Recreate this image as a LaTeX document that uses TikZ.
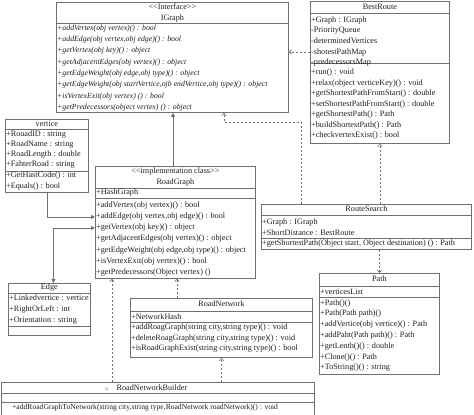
\documentclass[tikz,border=0pt]{standalone}
\usepackage{fontspec}
\setmainfont{Liberation Serif}
\usetikzlibrary{positioning, arrows.meta}
\definecolor{umlLine}{HTML}{707070}
\definecolor{umlText}{HTML}{1E1E1E}

\begin{document}
\begin{tikzpicture}[x=1pt, y=-1pt,
    box/.style={draw=umlLine, line width=0.8pt, rectangle, inner sep=0pt, anchor=north west},
    sep/.style={draw=umlLine, line width=0.7pt},
    title/.style={text=umlText, align=center, font=\fontsize{8.2}{10.7}\selectfont, inner sep=0pt},
    members/.style={text=umlText, align=left, font=\fontsize{8.2}{10.7}\selectfont, inner sep=0pt, anchor=west},
    ops/.style={members, font=\fontsize{7.8}{11.3}\selectfont\itshape},
    dep/.style={draw=umlLine, line width=0.6pt, dash pattern=on 2.5pt off 1.5pt, -{Straight Barb[length=2.5pt,width=4.5pt]}},
    assoc/.style={draw=umlLine, line width=0.8pt, -{Triangle[length=4pt,width=4pt]}},
    assocBoth/.style={assoc, {Triangle[length=4pt,width=4pt]}-{Triangle[length=4pt,width=4pt]}},
]
\useasboundingbox (0,0) rectangle (474,415);

% IGraph
\node[box, minimum width=232pt, minimum height=110pt] (ig) at (56,2) {};
\node[title] (igName) at (ig.north |- 0,13) {\textless\kern0pt\textless Interface\textgreater\kern0pt\textgreater\\IGraph};
\draw[sep] (ig.west |- 0,23) -- (ig.east |- 0,23);
\node[ops] (igOps) at (57,68) {
    +addVertex(obj vertex)() : bool\\
    +addEdge(obj vertex,obj edge)() : bool\\
    +getVertex(obj key)() : object\\
    +getAdjacentEdges(obj vertex)() : object\\
    +getEdgeWeight(obj edge,obj type)() : object\\
    +getEdgeWeight(obj startVertice,ojb endVertice,obj type)() : object\\
    +isVertexExit(obj vertex) () : bool\\
    +getPredecessors(object vertex) () : object
};

% BestRoute
\node[box, minimum width=139pt, minimum height=142pt] (br) at (310,1) {};
\node[title] (brName) at (br.north |- 0,7) {BestRoute};
\draw[sep] (br.west |- 0,13) -- (br.east |- 0,13);
\draw[sep] (br.west |- 0,63) -- (br.east |- 0,63);
\node[members] (brAttr) at (311,41.5) {
    +Graph : IGraph\\
    -PriorityQueue\\
    -determinedVertices\\
    -shotestPathMap\\
    -predecessorsMap
};
\node[members, font=\fontsize{8.2}{10.5}\selectfont] (brOps) at (311,104.5) {
    +run() : void\\
    +relax(object verticeKey)() : void\\
    +getShortestPathFromStart() : double\\
    +setShortestPathFromStart() : double\\
    +getShortestPath() : Path\\
    +buildShortestPath() : Path\\
    +checkvertexExist() : bool
};

% vertice
\node[box, minimum width=83pt, minimum height=73pt] (vt) at (5,119) {};
\node[title] (vtName) at (vt.north |- 0,124) {vertice};
\draw[sep] (vt.west |- 0,129) -- (vt.east |- 0,129);
\draw[sep] (vt.west |- 0,171) -- (vt.east |- 0,171);
\node[members, font=\fontsize{8.2}{10.3}\selectfont] (vtAttr) at (6,149.5) {
    +RouadID : string\\
    +RoadName : string\\
    +RoadLength : double\\
    +FahterRoad : string
};
\node[members, font=\fontsize{8.2}{10.3}\selectfont] (vtOps) at (6,181) {
    +GetHastCode() : int\\
    +Equals() : bool
};

% RoadGraph
\node[box, minimum width=160pt, minimum height=112pt] (rg) at (95,166) {};
\node[title] (rgName) at (rg.north |- 0,177) {\textless\kern0pt\textless implementation class\textgreater\kern0pt\textgreater\\RoadGraph};
\draw[sep] (rg.west |- 0,188) -- (rg.east |- 0,188);
\draw[sep] (rg.west |- 0,198) -- (rg.east |- 0,198);
\node[members] (rgAttr) at (96,192.5) {+HashGraph};
\node[members, font=\fontsize{8.2}{11.3}\selectfont] (rgOps) at (96,239) {
    +addVertex(obj vertex)() : bool\\
    +addEdge(obj vertex,obj edge)() : bool\\
    +getVertex(obj key)() : object\\
    +getAdjacentEdges(obj vertex)() : object\\
    +getEdgeWeight(obj edge,obj type)() : object\\
    +isVertexExit(obj vertex)() : bool\\
    +getPredecessors(Object vertex) ()
};

% RouteSearch
\node[box, minimum width=210pt, minimum height=45pt] (rs) at (261,204) {};
\node[title] (rsName) at (rs.north |- 0,209) {RouteSearch};
\draw[sep] (rs.west |- 0,215) -- (rs.east |- 0,215);
\draw[sep] (rs.west |- 0,238) -- (rs.east |- 0,238);
\node[members] (rsAttr) at (262,227.5) {
    +Graph : IGraph\\
    +ShortDistance : BestRoute
};
\node[members] (rsOps) at (262,243.5) {+getShortestPath(Object start, Object destination) () : Path};

% Path
\node[box, minimum width=120pt, minimum height=101pt] (pa) at (319,273) {};
\node[title] (paName) at (pa.north |- 0,279) {Path};
\draw[sep] (pa.west |- 0,286) -- (pa.east |- 0,286);
\draw[sep] (pa.west |- 0,297) -- (pa.east |- 0,297);
\node[members] (paAttr) at (320,291.5) {+verticesList};
\node[members, font=\fontsize{8.2}{10.8}\selectfont] (paOps) at (320,335.5) {
    +Path()()\\
    +Path(Path path)()\\
    +addVertice(obj vertice)() : Path\\
    +addPaht(Path path)() : Path\\
    +getLenth()() : double\\
    +Clone()() : Path\\
    +ToString()() : string
};

% Edge
\node[box, minimum width=82pt, minimum height=52pt] (ed) at (8,283) {};
\node[title] (edName) at (ed.north |- 0,288) {Edge};
\draw[sep] (ed.west |- 0,293) -- (ed.east |- 0,293);
\draw[sep] (ed.west |- 0,326) -- (ed.east |- 0,326);
\node[members, font=\fontsize{8.2}{11}\selectfont] (edAttr) at (9,310) {
    +Linkedvertice : vertice\\
    +RightOrLeft : int\\
    +Orientation : string
};

% RoadNetwork
\node[box, minimum width=182pt, minimum height=59pt] (rn) at (130,298) {};
\node[title] (rnName) at (rn.north |- 0,304) {RoadNetwork};
\draw[sep] (rn.west |- 0,311) -- (rn.east |- 0,311);
\draw[sep] (rn.west |- 0,322) -- (rn.east |- 0,322);
\node[members] (rnAttr) at (131,317) {+NetworkHash};
\node[members, font=\fontsize{8.2}{10.5}\selectfont] (rnOps) at (131,338.5) {
    +addRoagGraph(string city,string type)() : void\\
    +deleteRoagGraph(string city,string type)() : void\\
    +isRoadGraphExist(string city,string type)() : bool
};

% RoadNetworkBuilder
\node[box, minimum width=313pt, minimum height=36pt] (rb) at (1,382) {};
\node[title] (rbName) at (146,387.5) {{\tiny$\circ$}\quad RoadNetworkBuilder};
\draw[sep] (rb.west |- 0,393) -- (rb.east |- 0,393);
\draw[sep] (rb.west |- 0,402) -- (rb.east |- 0,402);
\node[members, font=\fontsize{7.6}{10.7}\selectfont] (rbOps) at (12,407.5) {+addRoadGraphToNetwork(string city,string type,RoadNetwork roadNetwork)() : void};

% connectors
\draw[dep] (br.west |- 0,52) -- (ig.east |- 0,52);
\draw[dep] (rs.north -| 301,0) |- (224,122) -- (ig.south -| 224,0);
\draw[dep] (rs.north -| br.south) -- (br.south);
\draw[dep] (rs.south -| pa.north) -- (pa.north);
\draw[assoc] (rg.north -| 173,0) -- (ig.south -| 173,0);
\draw[assoc] (vt.south) |- (rg.west |- 0,217);
\draw[assocBoth] ([xshift=4pt]ed.north) |- (rg.west |- 0,228);
\draw[dep] (rb.north -| 112,0) -- (rg.south -| 112,0);
\draw[dep] (rn.north -| 177,0) -- (rg.south -| 177,0);
\draw[dep] (rb.north -| rn.south) -- (rn.south);
\end{tikzpicture}
\end{document}
